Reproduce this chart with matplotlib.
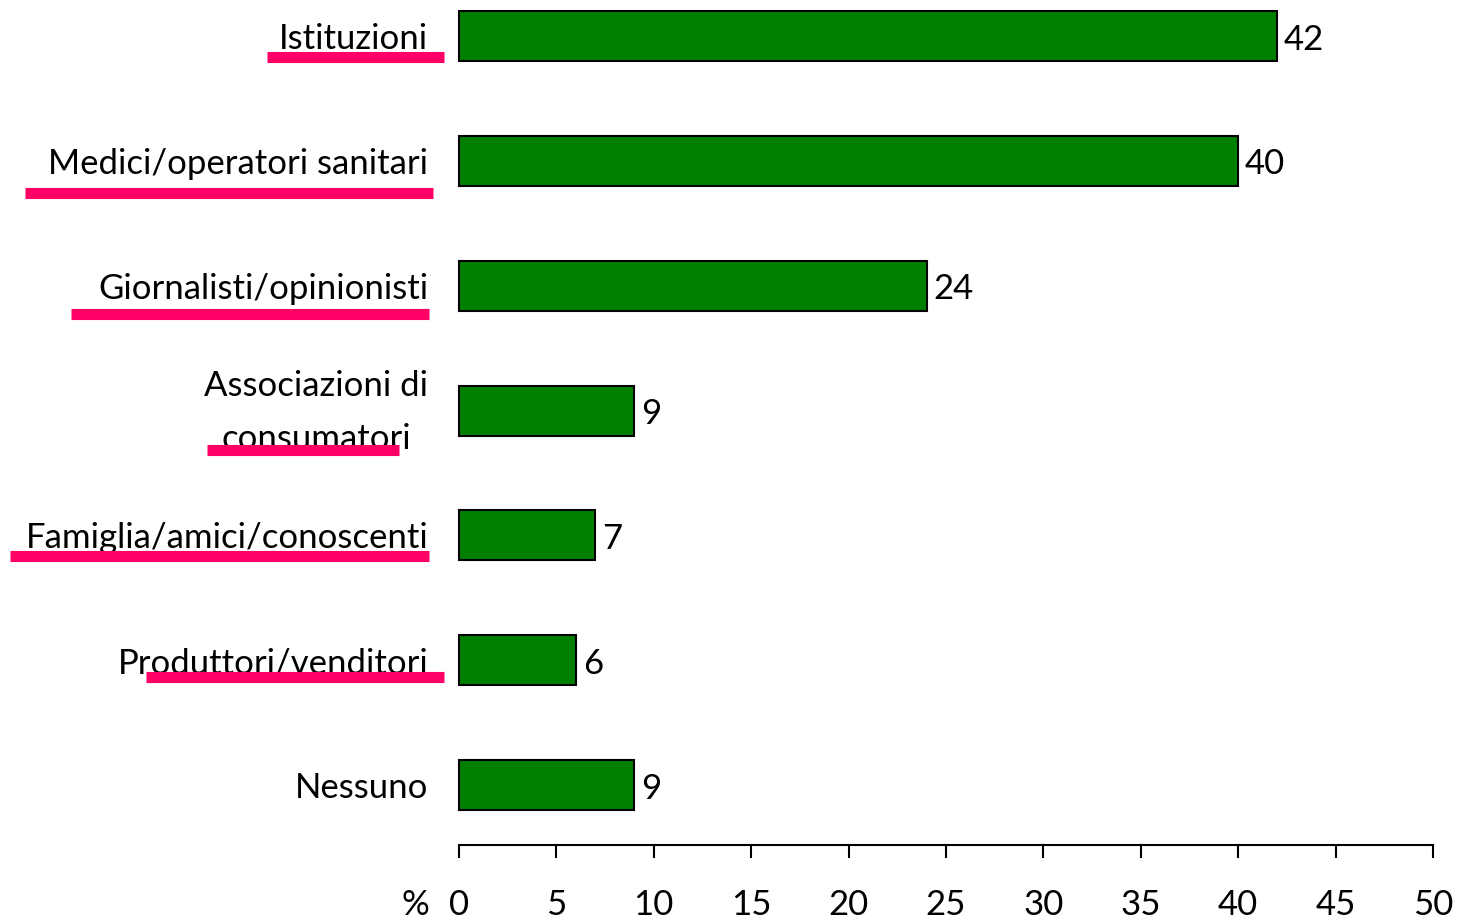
import matplotlib.pyplot as plt
from matplotlib.lines import Line2D
from matplotlib.transforms import ScaledTranslation

categories = [
    "Istituzioni",
    "Medici/operatori sanitari",
    "Giornalisti/opinionisti",
    "Associazioni di\nconsumatori",
    "Famiglia/amici/conoscenti",
    "Produttori/venditori",
    "Nessuno",
]
values = [42, 40, 24, 9, 7, 6, 9]
xticks = [0, 5, 10, 15, 20, 25, 30, 35, 40, 45, 50]

# hand-drawn pink underlines: (x0, x1, y) in figure pixels
underlines = [
    (267, 444, 57),
    (25, 433, 193),
    (71, 429, 314),
    (207, 399, 450),
    (10, 429, 556),
    (146, 444, 677),
]

W, H = 1460, 919
plt.rcParams["font.family"] = ["Lato", "DejaVu Sans"]
fs = 25

fig = plt.figure(figsize=(W / 100, H / 100), dpi=100)
ax = fig.add_axes([459 / W, 1 - 845 / H, (1433 - 459) / W, 845 / H])

pos = list(range(len(categories)))
bars = ax.barh(pos, values, height=0.4, color="#008000", edgecolor="black",
               linewidth=1.5, clip_on=False)
for t in ax.bar_label(bars, labels=[str(v) for v in values], padding=5,
                      fontsize=fs):
    t.set_va("center")
    t.xyann = (5, -2.5)

ax.set_xlim(0, 50)
ax.set_ylim(6.48, -0.29)
ax.set_xticks(xticks)
ax.set_yticks(pos)
ax.set_yticklabels(categories, fontsize=fs, multialignment="center",
                   linespacing=1.82)
ax.tick_params(axis="y", length=0, pad=22)
ax.tick_params(axis="x", direction="out", length=9, width=1.5, pad=23,
               labelsize=fs)
for lab in ax.get_yticklabels():
    if "\n" in lab.get_text():
        lab.set_transform(lab.get_transform()
                          + ScaledTranslation(0, 0.12, fig.dpi_scale_trans))
for s in ["left", "right", "top"]:
    ax.spines[s].set_visible(False)
ax.spines["bottom"].set_linewidth(1.5)

fig.text(415 / W, 1 - 905 / H, "%", fontsize=fs, ha="center", va="center")

for x0, x1, y in underlines:
    fig.add_artist(Line2D([x0 / W, x1 / W], [1 - y / H, 1 - y / H],
                          transform=fig.transFigure, color="#FF0066",
                          linewidth=8, solid_capstyle="butt"))

fig.savefig("out.png", dpi=100)
